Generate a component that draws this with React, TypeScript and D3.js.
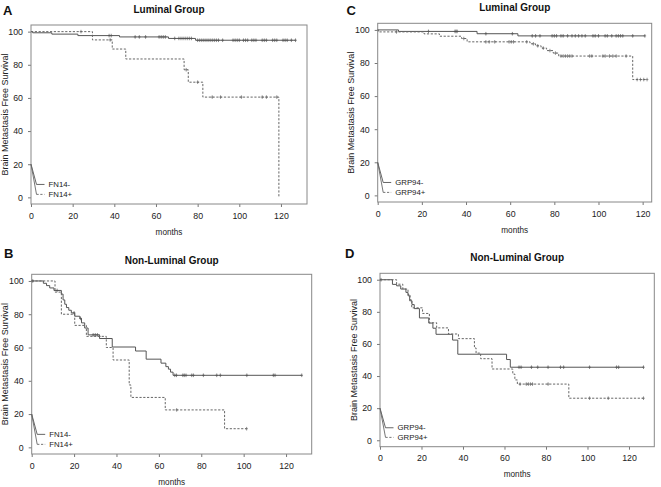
import React, { useEffect, useRef } from 'react';
import * as d3 from 'd3';

const W = 661;
const H = 487;
const FONT = '"Liberation Sans", Arial, Helvetica, sans-serif';

const yTicks = [0, 20, 40, 60, 80, 100];
const xTicks = [0, 20, 40, 60, 80, 100, 120];

// A - FN14, luminal group
const aNegTime = [0, 0.8, 10, 22.5, 42.5, 66, 79];
const aNegSurv = [100, 99.3, 98.5, 97.6, 96.8, 95.9, 94.8];
const aNegEnd = 127;
const aNegCensor = [37.5, 38.5, 50, 52, 55, 61.5, 62.5, 63.5, 64.5, 69, 71, 72, 73, 74, 75, 76, 77, 80, 81, 82, 83, 84, 85, 86, 87, 88, 89, 90, 92, 97, 98, 99, 100, 102, 103, 104, 106, 107, 108, 111, 112, 113, 116, 117, 118, 121, 122, 123, 125, 127];
const aPosTime = [0, 29.5, 39, 45.5, 73.5, 75.5, 82.5, 119];
const aPosSurv = [100, 95, 89.5, 83.5, 77, 69.5, 60.5, 0];
const aPosEnd = 119;
const aPosCensor = [24, 38, 74.5, 80, 87, 91, 101, 111, 113, 118];

// C - GRP94, luminal group
const cNegTime = [0, 9.4, 45, 63.5];
const cNegSurv = [100, 99.1, 97.7, 96.4];
const cNegEnd = 121;
const cNegCensor = [23, 35, 35.5, 36, 49, 61, 70, 71.5, 73.5, 79, 80, 81, 83, 84, 86, 88, 89.5, 91, 92.5, 94, 97.5, 98.5, 100, 103, 104, 106, 108, 109, 110, 111, 115.5, 121];
const cPosTime = [0, 0.3, 21, 28, 38, 40.5, 69, 71.5, 74, 76.5, 79.5, 82, 115.5];
const cPosSurv = [100, 98.8, 97.6, 96.2, 94.8, 92.8, 91.6, 90.4, 89, 87.5, 86, 84.2, 70];
const cPosEnd = 122;
const cPosCensor = [8.5, 39, 49, 50.5, 53, 59.5, 60.5, 61.5, 67.5, 70.5, 72.5, 75, 78, 80.5, 83, 84, 85, 86, 87, 88, 96, 97, 102, 103, 105, 106.5, 108, 112.5, 117.5, 119, 120.5, 122];

// B - FN14, non-luminal group
const bNegTime = [0, 5.5, 7, 8.5, 10.5, 14, 14.8, 15.6, 16.4, 17.5, 18.7, 20.3, 22.7, 23.5, 25, 26.6, 32, 38, 49, 54, 61, 63.3, 64.5, 65.5, 66.7];
const bNegSurv = [100, 98.6, 97.2, 95.8, 94.3, 92.1, 88.6, 86, 84, 82.4, 80.8, 78.8, 77.5, 74.8, 71.7, 67.6, 65.4, 60.3, 57.9, 53, 50.6, 48.5, 47, 45.2, 43.3];
const bNegEnd = 127.4;
const bNegCensor = [0.5, 12, 20, 23, 29, 30, 31, 67.5, 68.3, 71.3, 72, 72.8, 75.5, 76.3, 81, 87.3, 89, 101.5, 114, 114.8, 127.4];
const bPosTime = [0, 11, 14, 20.3, 25.8, 35.2, 38.4, 46, 46.8, 63, 91];
const bPosSurv = [100, 93.3, 80, 73.3, 66.7, 60, 52.5, 37.5, 30, 22.5, 11.2];
const bPosEnd = 101.4;
const bPosCensor = [32, 68.4, 101.4];

// D - GRP94, non-luminal group
const dNegTime = [0, 6, 8, 10, 12.5, 13.5, 14.3, 15.4, 16.5, 19, 23.5, 25.5, 27, 35, 37.5, 61, 62.8];
const dNegSurv = [100, 97.1, 96.2, 94.2, 92.1, 90, 86.9, 84.5, 82, 76.2, 73, 69.8, 66, 62.4, 53.6, 50.3, 45.5];
const dNegEnd = 127;
const dNegCensor = [0.5, 67, 68, 73, 76, 81, 87, 88.5, 101, 114, 115, 127];
const dPosTime = [0, 8, 11, 13.5, 14.5, 15.3, 20.5, 23.8, 27.3, 33, 37.8, 45.5, 46.3, 48.5, 54, 64, 65, 66.2, 91];
const dPosSurv = [100, 97.2, 94.2, 90.8, 87.5, 82.5, 79, 73.2, 70, 66.2, 63.3, 57.5, 54.3, 50.8, 44.4, 41.2, 37.6, 35, 26.2];
const dPosEnd = 127;
const dPosCensor = [67.5, 70.5, 71.5, 72.5, 73.5, 81, 101, 110, 127];

const panels = [
  {
    letter: 'A', title: 'Luminal Group', labels: ['FN14-', 'FN14+'],
    box: { left: 31, right: 307, top: 25, bottom: 204 }, xMax: 132.5,
    letterPos: [3, 15], titleY: 13.2,
    neg: { time: aNegTime, surv: aNegSurv, end: aNegEnd, censor: aNegCensor },
    pos: { time: aPosTime, surv: aPosSurv, end: aPosEnd, censor: aPosCensor },
  },
  {
    letter: 'C', title: 'Luminal Group', labels: ['GRP94-', 'GRP94+'],
    box: { left: 377.7, right: 651.7, top: 23.3, bottom: 202 }, xMax: 124.1,
    letterPos: [346.5, 15], titleY: 10.8,
    neg: { time: cNegTime, surv: cNegSurv, end: cNegEnd, censor: cNegCensor },
    pos: { time: cPosTime, surv: cPosSurv, end: cPosEnd, censor: cPosCensor },
  },
  {
    letter: 'B', title: 'Non-Luminal Group', labels: ['FN14-', 'FN14+'],
    box: { left: 31.7, right: 311.7, top: 274.3, bottom: 454 }, xMax: 132.1,
    letterPos: [4, 258.3], titleY: 264,
    neg: { time: bNegTime, surv: bNegSurv, end: bNegEnd, censor: bNegCensor },
    pos: { time: bPosTime, surv: bPosSurv, end: bPosEnd, censor: bPosCensor },
  },
  {
    letter: 'D', title: 'Non-Luminal Group', labels: ['GRP94-', 'GRP94+'],
    box: { left: 380, right: 654.3, top: 273.3, bottom: 446.7 }, xMax: 132.2,
    letterPos: [345, 258.3], titleY: 260.8,
    neg: { time: dNegTime, surv: dNegSurv, end: dNegEnd, censor: dNegCensor },
    pos: { time: dPosTime, surv: dPosSurv, end: dPosEnd, censor: dPosCensor },
  },
];

// survival value at time t (right-continuous step)
function survAt(time, surv, t) {
  let v = surv[0];
  for (let i = 0; i < time.length; i++) {
    if (time[i] <= t) v = surv[i];
  }
  return v;
}

function drawPanel(svg, p) {
  const { left, right, top, bottom } = p.box;
  const x = d3.scaleLinear().domain([0, p.xMax]).range([left, right]);
  const y = d3.scaleLinear().domain([-4, 104]).range([bottom, top]);
  const g = svg.append('g');

  const axisColor = '#777';

  // y axis
  const ya = g.append('g')
    .attr('transform', `translate(${left},0)`)
    .call(d3.axisLeft(y).tickValues(yTicks).tickSize(3).tickPadding(5));
  ya.select('.domain').remove();
  ya.selectAll('line').attr('stroke', axisColor);
  ya.selectAll('text').attr('font-size', 8.8).attr('font-family', FONT).attr('fill', '#222');

  // x axis
  const xa = g.append('g')
    .attr('transform', `translate(0,${bottom})`)
    .call(d3.axisBottom(x).tickValues(xTicks).tickSize(3).tickPadding(5.5));
  xa.select('.domain').remove();
  xa.selectAll('line').attr('stroke', axisColor);
  xa.selectAll('text').attr('font-size', 8.8).attr('font-family', FONT).attr('fill', '#222');

  // plot box
  g.append('rect')
    .attr('x', left).attr('y', top)
    .attr('width', right - left).attr('height', bottom - top)
    .attr('fill', 'none').attr('stroke', '#888').attr('stroke-width', 1);

  const line = d3.line()
    .x(d => x(d[0]))
    .y(d => y(d[1]))
    .curve(d3.curveStepAfter);

  const series = [
    { s: p.neg, dash: null, color: '#555' },
    { s: p.pos, dash: '2.2,1.6', color: '#666' },
  ];

  series.forEach(({ s, dash, color }) => {
    const pts = s.time.map((t, i) => [t, s.surv[i]]);
    const last = pts[pts.length - 1];
    if (s.end > last[0]) pts.push([s.end, last[1]]);
    g.append('path')
      .attr('d', line(pts))
      .attr('fill', 'none')
      .attr('stroke', color)
      .attr('stroke-width', 1)
      .attr('stroke-dasharray', dash);

    g.selectAll(null)
      .data(s.censor)
      .enter().append('path')
      .attr('d', t => {
        const cx = x(t), cy = y(survAt(s.time, s.surv, t));
        return `M${cx - 1.3},${cy}h2.6M${cx},${cy - 1.8}v3.6`;
      })
      .attr('stroke', color)
      .attr('stroke-width', 0.7)
      .attr('fill', 'none');
  });

  // legend
  const lx0 = x(0), ly0 = y(20);
  const ly1 = y(7.8), ly2 = y(1.8);
  g.append('path')
    .attr('d', `M${lx0},${ly0}L${lx0 + 5.5},${ly1}H${lx0 + 13.5}`)
    .attr('fill', 'none').attr('stroke', '#555').attr('stroke-width', 0.9);
  g.append('path')
    .attr('d', `M${lx0},${ly0}L${lx0 + 5.5},${ly2}`)
    .attr('fill', 'none').attr('stroke', '#666').attr('stroke-width', 0.9);
  g.append('path')
    .attr('d', `M${lx0 + 5.5},${ly2}H${lx0 + 13.5}`)
    .attr('fill', 'none').attr('stroke', '#666').attr('stroke-width', 0.9)
    .attr('stroke-dasharray', '2.2,1.6');
  [ly1, ly2].forEach((ly, i) => {
    g.append('text')
      .attr('x', lx0 + 17.5).attr('y', ly).attr('dy', '0.35em')
      .attr('font-size', 7.8).attr('font-family', FONT).attr('fill', '#222')
      .text(p.labels[i]);
  });

  // titles and labels
  const cx = (left + right) / 2;
  g.append('text')
    .attr('x', cx).attr('y', p.titleY)
    .attr('text-anchor', 'middle')
    .attr('font-size', 10).attr('font-weight', 'bold').attr('font-family', FONT)
    .attr('fill', '#111')
    .text(p.title);

  g.append('text')
    .attr('x', p.letterPos[0]).attr('y', p.letterPos[1])
    .attr('font-size', 13).attr('font-weight', 'bold').attr('font-family', FONT)
    .attr('fill', '#111')
    .text(p.letter);

  g.append('text')
    .attr('x', cx).attr('y', bottom + 30.5)
    .attr('text-anchor', 'middle')
    .attr('font-size', 8.2).attr('font-family', FONT).attr('fill', '#222')
    .text('months');

  const cy = (top + bottom) / 2;
  g.append('text')
    .attr('transform', `translate(${left - 23.5},${cy}) rotate(-90)`)
    .attr('text-anchor', 'middle')
    .attr('font-size', 9).attr('font-family', FONT).attr('fill', '#222')
    .text('Brain Metastasis Free Survival');
}

const App = () => {
  const ref = useRef(null);

  useEffect(() => {
    const svg = d3.select(ref.current);
    svg.selectAll('*').remove();
    svg.append('rect').attr('width', W).attr('height', H).attr('fill', '#fff');
    panels.forEach(p => drawPanel(svg, p));
  }, []);

  return (
    <svg
      ref={ref}
      width={W}
      height={H}
      style={{ position: 'absolute', left: 0, top: 0, display: 'block' }}
    />
  );
};

export default App;
